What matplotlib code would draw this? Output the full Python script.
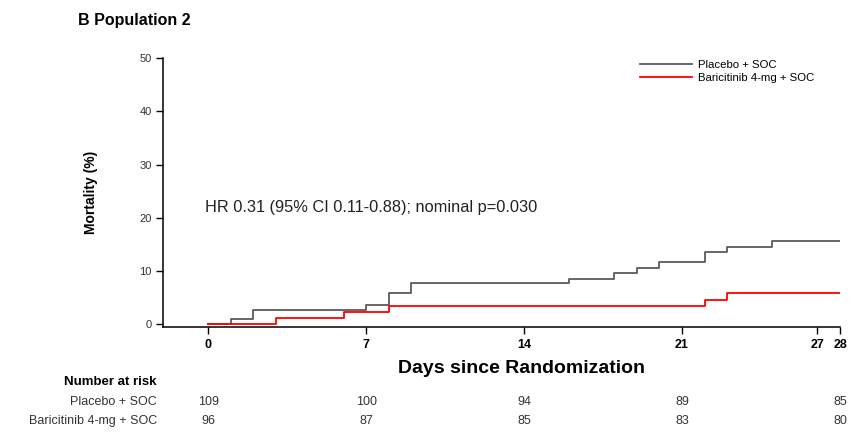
import matplotlib
matplotlib.use('Agg')
import matplotlib.pyplot as plt
import matplotlib.transforms as mtransforms

plt.rcParams['font.family'] = ['Liberation Sans', 'DejaVu Sans']

# Kaplan-Meier cumulative mortality (%), step changes by day
placebo_days = [0, 1, 2, 7, 8, 9, 16, 18, 19, 20, 22, 23, 25, 28]
placebo_mort = [0, 0.94, 2.75, 3.7, 5.8, 7.7, 8.6, 9.6, 10.6, 11.7, 13.5, 14.6, 15.6, 15.6]
bari_days = [0, 3, 6, 8, 22, 23, 28]
bari_mort = [0, 1.1, 2.3, 3.4, 4.5, 5.8, 5.8]

arm_labels = ['Placebo + SOC', 'Baricitinib 4-mg + SOC']
risk_days = [0, 7, 14, 21, 28]
placebo_risk = [109, 100, 94, 89, 85]
bari_risk = [96, 87, 85, 83, 80]

x_ticks = [0, 7, 14, 21, 27, 28]
y_ticks = [0, 10, 20, 30, 40, 50]
hr_text = 'HR 0.31 (95% CI 0.11-0.88); nominal p=0.030'

fig = plt.figure(figsize=(8.52, 4.34), dpi=100)
ax = fig.add_axes([163 / 852, 1 - 327 / 434, 677 / 852, 269 / 434])

ax.step(placebo_days, placebo_mort, where='post', color='#5a5a5a', lw=1.3,
        label=arm_labels[0])
ax.step(bari_days, bari_mort, where='post', color='#ff0000', lw=1.3,
        label=arm_labels[1])

ax.set_xlim(-2, 28)
ax.set_ylim(-0.5, 50)
ax.set_xticks(x_ticks)
ax.set_yticks(y_ticks)
for lbl in ax.get_xticklabels():
    lbl.set_fontweight('bold')
ax.tick_params(axis='x', labelsize=9, length=5, width=1, pad=4)
ax.tick_params(axis='y', labelsize=8, length=5, width=1, pad=3,
               labelcolor='#333333')
for side in ['top', 'right']:
    ax.spines[side].set_visible(False)
for side in ['left', 'bottom']:
    ax.spines[side].set_linewidth(1.1)

ax.set_ylabel('Mortality (%)', fontsize=10, fontweight='bold', labelpad=30)
ax.set_xlabel('Days since Randomization', fontsize=14, fontweight='bold',
              labelpad=6)
ax.xaxis.label.set_x((521 - 163) / 677)

ax.text(-0.15, 22.0, hr_text, fontsize=11.8, color='#222222', va='center')

fig.text(78 / 852, 1 - 20 / 434, 'B Population 2', fontsize=11.5,
         fontweight='bold', va='center')

ax.legend(loc='upper left', bbox_to_anchor=(640 / 852, 1 - 60 / 434),
          bbox_transform=fig.transFigure, frameon=False, fontsize=8.2,
          handlelength=4.6, handletextpad=0.5, labelspacing=0.25,
          borderpad=0, borderaxespad=0)

# number at risk table below the axis
trans = mtransforms.blended_transform_factory(ax.transData, fig.transFigure)
fig.text(157 / 852, 1 - 382 / 434, 'Number at risk', fontsize=9.5,
         fontweight='bold', ha='right', va='center')
rows = [(arm_labels[0], placebo_risk, 1 - 402 / 434),
        (arm_labels[1], bari_risk, 1 - 421 / 434)]
for name, counts, yy in rows:
    fig.text(157 / 852, yy, name, fontsize=9, color='#333333',
             ha='right', va='center')
    for d, n in zip(risk_days, counts):
        ax.text(d, yy, str(n), transform=trans, fontsize=9, color='#333333',
                ha='center', va='center')

plt.savefig('out.png', dpi=100)
